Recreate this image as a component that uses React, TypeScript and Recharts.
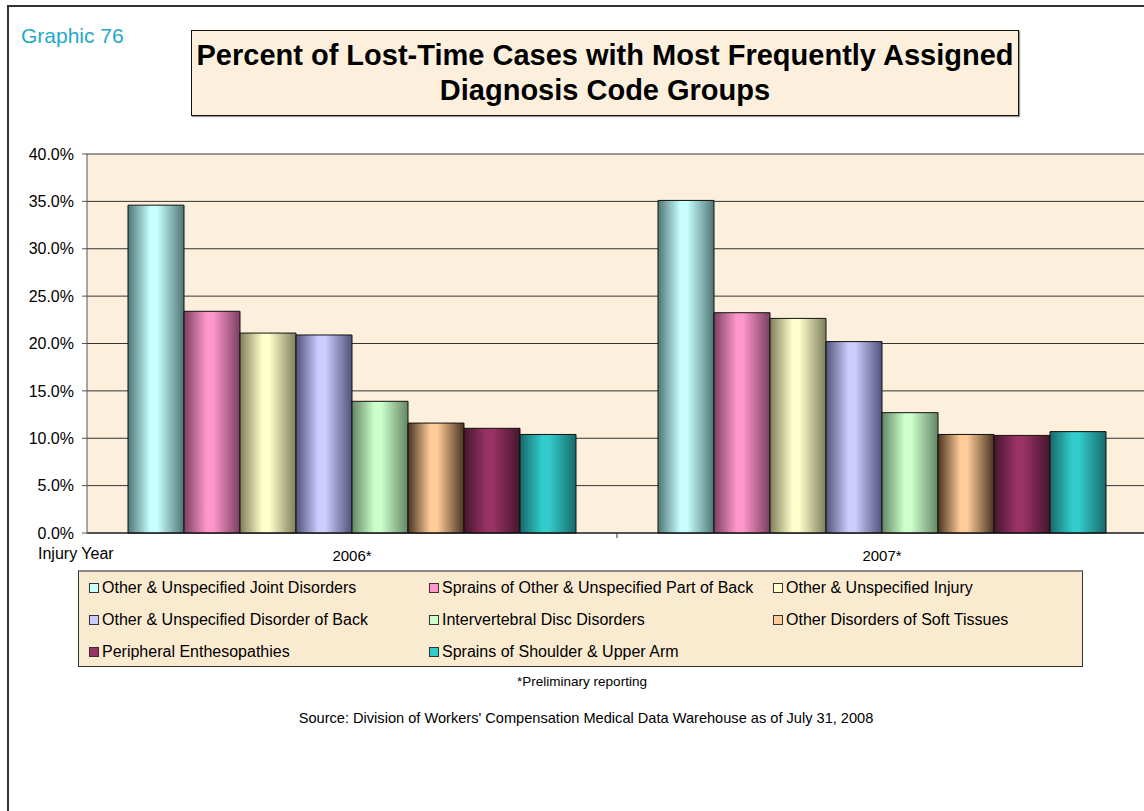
import React from 'react';
import { BarChart, Bar, XAxis, YAxis, CartesianGrid } from 'recharts';

// ---- data ----
const categories = ['2006*', '2007*'];
const seriesNames = [
  'Other & Unspecified Joint Disorders',
  'Sprains of Other & Unspecified Part of Back',
  'Other & Unspecified Injury',
  'Other & Unspecified Disorder of Back',
  'Intervertebral Disc Disorders',
  'Other Disorders of Soft Tissues',
  'Peripheral Enthesopathies',
  'Sprains of Shoulder & Upper Arm',
];
const jointDisorders = [34.6, 35.1];
const sprainsBack = [23.4, 23.25];
const otherInjury = [21.1, 22.65];
const disorderBack = [20.9, 20.2];
const discDisorders = [13.9, 12.7];
const softTissues = [11.6, 10.4];
const enthesopathies = [11.05, 10.3];
const shoulderArm = [10.4, 10.7];
const yTicks = [0, 5, 10, 15, 20, 25, 30, 35, 40];

const seriesValues = [
  jointDisorders, sprainsBack, otherInjury, disorderBack,
  discDisorders, softTissues, enthesopathies, shoulderArm,
];
const centerColors = ['#C8FFFF', '#FF96CB', '#FFFFCC', '#CCCCFF', '#CCFFCC', '#FFCC99', '#993366', '#33CCCC'];
const edgeColors = ['#4F7575', '#7A4060', '#7E7E5C', '#52527A', '#648664', '#4A3420', '#45152C', '#17696A'];

const rows = categories.map((c, i) => {
  const r: any = { cat: c };
  seriesValues.forEach((s, k) => { r['s' + k] = s[i]; });
  return r;
});

// ---- layout ----
const CHART_W = 1160;
const CHART_H = 600;
const MARGIN = { top: 154, right: 13, bottom: 37, left: 27 };
const YAXIS_W = 60;
const HALF_BAND = (CHART_W - MARGIN.left - MARGIN.right - YAXIS_W) / categories.length / 2;
const FONT = '"Liberation Sans", Arial, sans-serif';
const PAPER = '#FCF0DC';

const XTick = (props: any) => {
  const { x, y, payload, index } = props;
  return (
    <g>
      <text x={x} y={y + 28} textAnchor="middle" fontSize={15} fontFamily={FONT} fill="#000">
        {payload.value}
      </text>
      {index < categories.length - 1 && (
        <line x1={x + HALF_BAND} x2={x + HALF_BAND} y1={y} y2={y + 5} stroke="#333" />
      )}
    </g>
  );
};

export default function App() {
  return (
    <div style={{ position: 'absolute', left: 0, top: 0, width: 1144, height: 811, overflow: 'hidden', background: '#fff', fontFamily: FONT }}>
      <div style={{ position: 'absolute', left: 7, top: 5, width: 1400, height: 1000, border: '2px solid #333' }} />
      <div style={{ position: 'absolute', left: 0, top: 0 }}>
        <BarChart width={CHART_W} height={CHART_H} data={rows} margin={MARGIN} barCategoryGap={41} barGap={0}>
          <defs>
            {centerColors.map((c, k) => (
              <linearGradient key={k} id={'g' + k} x1="0" y1="0" x2="1" y2="0">
                <stop offset="0%" stopColor={edgeColors[k]} />
                <stop offset="40%" stopColor={c} />
                <stop offset="52%" stopColor={c} />
                <stop offset="100%" stopColor={edgeColors[k]} />
              </linearGradient>
            ))}
          </defs>
          <CartesianGrid vertical={false} stroke="#333" fill={PAPER} fillOpacity={1} />
          <XAxis dataKey="cat" tickLine={false} tickSize={0} tickMargin={0} height={30} stroke="#111" tick={<XTick />} interval={0} />
          <YAxis
            width={YAXIS_W}
            domain={[0, 40]}
            ticks={yTicks}
            tickFormatter={(v: number) => v.toFixed(1) + '%'}
            stroke="#555"
            tickSize={5}
            tickMargin={8}
            tick={{ fill: '#000', fontSize: 16, fontFamily: FONT }}
            interval={0}
          />
          {seriesNames.map((n, k) => (
            <Bar key={k} dataKey={'s' + k} name={n} fill={`url(#g${k})`} stroke="#111" strokeWidth={1} isAnimationActive={false} />
          ))}
        </BarChart>
      </div>

      <div style={{ position: 'absolute', left: 21, top: 23, fontSize: 21, color: '#1DAAC8', lineHeight: '26px' }}>Graphic 76</div>

      <div style={{ position: 'absolute', left: 191, top: 30, width: 826, height: 84, background: PAPER, border: '1.5px solid #111', boxShadow: '1px 1px 1px #999', display: 'flex', flexDirection: 'column', alignItems: 'center', justifyContent: 'center' }}>
        <div style={{ fontWeight: 'bold', fontSize: 29, lineHeight: '35px', textAlign: 'center', whiteSpace: 'nowrap' }}>
          Percent of Lost-Time Cases with Most Frequently Assigned<br />Diagnosis Code Groups
        </div>
      </div>

      <div style={{ position: 'absolute', left: 38, top: 545, fontSize: 16, lineHeight: '18px' }}>Injury Year</div>

      <div style={{ position: 'absolute', left: 78, top: 570, width: 1003, height: 94, background: '#FAEBD0', border: '1px solid #333', borderTop: '2px solid #888' }}>
        {seriesNames.map((n, k) => {
          const col = k % 3;
          const row = Math.floor(k / 3);
          const lefts = [10, 350, 694];
          return (
            <div key={k} style={{ position: 'absolute', left: lefts[col], top: 6 + row * 32, height: 20, display: 'flex', alignItems: 'center', fontSize: 16, whiteSpace: 'nowrap' }}>
              <span style={{ display: 'inline-block', width: 8, height: 8, background: centerColors[k], border: '1px solid #333', marginRight: 3 }} />
              {n}
            </div>
          );
        })}
      </div>

      <div style={{ position: 'absolute', left: 0, width: 1164, top: 674, textAlign: 'center', fontSize: 13.5 }}>*Preliminary reporting</div>
      <div style={{ position: 'absolute', left: 0, width: 1172, top: 710, textAlign: 'center', fontSize: 14.6 }}>Source: Division of Workers' Compensation Medical Data Warehouse as of July 31, 2008</div>
    </div>
  );
}
